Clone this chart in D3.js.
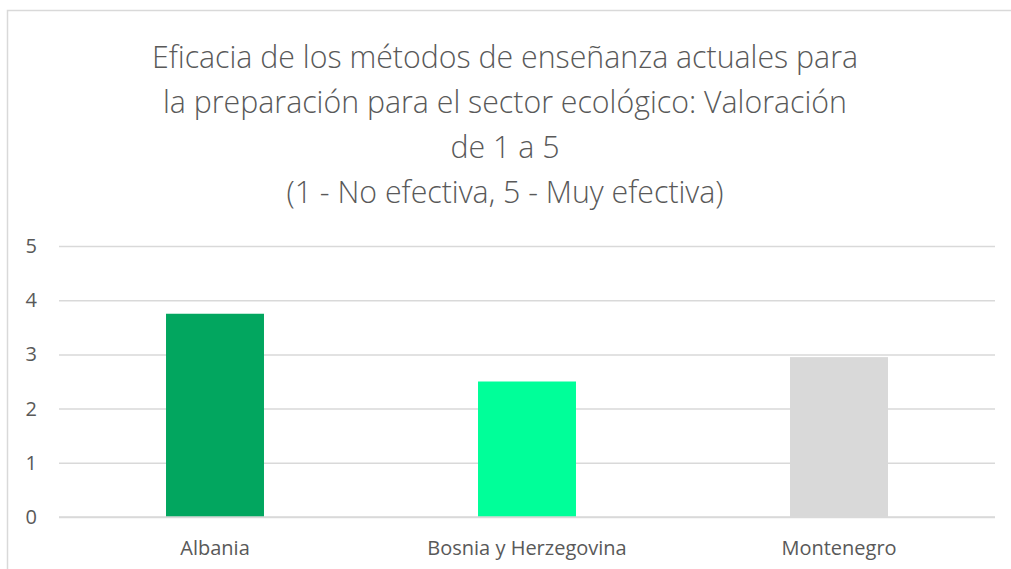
<!DOCTYPE html>
<html>
<head>
<meta charset="utf-8">
<script src="https://cdn.jsdelivr.net/npm/d3@7"></script>
<style>
  body { margin: 0; background: #ffffff; }
  svg { display: block; }
</style>
</head>
<body>
<div id="chart"></div>
<script>
// Data
const countries = ["Albania", "Bosnia y Herzegovina", "Montenegro"];
const ratings = [3.75, 2.5, 2.95];
const barColors = ["#02a65f", "#00ff99", "#d9d9d9"];
const yTicks = [0, 1, 2, 3, 4, 5];
const titleLines = [
  "Eficacia de los métodos de enseñanza actuales para",
  "la preparación para el sector ecológico: Valoración",
  "de 1 a 5",
  "(1 - No efectiva, 5 - Muy efectiva)"
];

// Dimensions
let dimensions = {
  width: 1011,
  height: 569,
  left: 59,
  right: 995,
  top: 246,
  bottom: 517,
};

const svg = d3
  .select("#chart")
  .append("svg")
  .attr("width", dimensions.width)
  .attr("height", dimensions.height);

// chart border (only top and left visible in the picture)
svg
  .append("rect")
  .attr("x", 7.5)
  .attr("y", 10.5)
  .attr("width", 1100)
  .attr("height", 700)
  .attr("fill", "none")
  .attr("stroke", "#d9d9d9")
  .attr("stroke-width", 1.5);

// Title
svg
  .append("g")
  .selectAll("text")
  .data(titleLines)
  .join("text")
  .attr("x", 505)
  .attr("y", (d, i) => 68 + i * 45)
  .attr("text-anchor", "middle")
  .style("font-family", "'Open Sans', sans-serif")
  .style("font-weight", 300)
  .style("font-size", "30.3px")
  .style("fill", "#595959")
  .text((d) => d);

// Scales
const xScale = d3
  .scaleBand()
  .domain(countries)
  .range([dimensions.left, dimensions.right])
  .paddingInner(0.686)
  .paddingOuter(0.343);

const yScale = d3
  .scaleLinear()
  .domain([0, 5])
  .range([dimensions.bottom, dimensions.top]);

// Gridlines
const yAxis = d3
  .axisLeft(yScale)
  .tickValues(yTicks)
  .tickSize(-(dimensions.right - dimensions.left))
  .tickPadding(22)
  .tickFormat(d3.format("d"));

const gY = svg
  .append("g")
  .attr("transform", `translate(${dimensions.left}, 0)`)
  .call(yAxis);

gY.select(".domain").remove();
gY.selectAll(".tick line").attr("stroke", "#d9d9d9").attr("stroke-width", 1.5);
gY.selectAll(".tick text")
  .style("font-family", "'Open Sans', sans-serif")
  .style("font-size", "20px")
  .style("fill", "#595959");

// Bars
svg
  .append("g")
  .selectAll("rect")
  .data(countries)
  .join("rect")
  .attr("x", (d) => xScale(d))
  .attr("width", xScale.bandwidth())
  .attr("y", (d, i) => yScale(ratings[i]))
  .attr("height", (d, i) => yScale(0) - yScale(ratings[i]))
  .attr("fill", (d, i) => barColors[i]);

// X axis
const xAxis = d3.axisBottom(xScale).tickSize(0).tickPadding(24);

const gX = svg
  .append("g")
  .attr("transform", `translate(0, ${dimensions.bottom})`)
  .call(xAxis);

gX.select(".domain").remove();
gX.selectAll(".tick text")
  .style("font-family", "'Open Sans', sans-serif")
  .style("font-size", "20px")
  .style("fill", "#595959");

// zero line on top of bars
svg
  .append("line")
  .attr("x1", dimensions.left)
  .attr("x2", dimensions.right)
  .attr("y1", yScale(0))
  .attr("y2", yScale(0))
  .attr("stroke", "#d9d9d9")
  .attr("stroke-width", 1.5);
</script>
</body>
</html>
